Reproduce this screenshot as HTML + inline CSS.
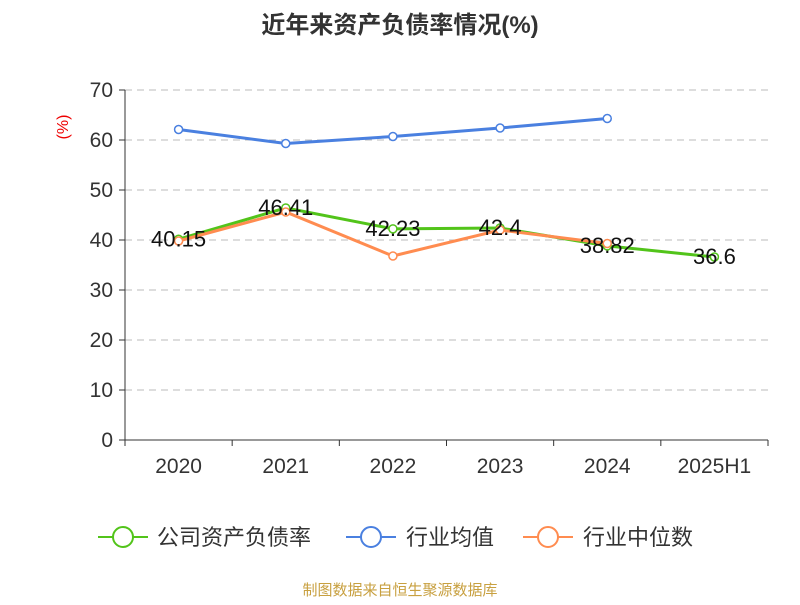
<!DOCTYPE html>
<html><head><meta charset="utf-8"><style>
body{margin:0;background:#fff;font-family:"Liberation Sans","Noto Sans CJK SC",sans-serif}
</style></head><body>
<svg width="800" height="600" xmlns="http://www.w3.org/2000/svg" font-family="Liberation Sans, Noto Sans CJK SC, sans-serif">
<text x="400" y="33" text-anchor="middle" font-size="24" font-weight="bold" fill="#333">近年来资产负债率情况(%)</text>
<text x="68" y="127" text-anchor="middle" font-size="16" fill="#e00" transform="rotate(-90 68 127)">(%)</text>
<g id="grid"></g><g id="axes"></g><g id="series"></g>
<g font-size="22" fill="#333">
<g><line x1="98" y1="537" x2="148" y2="537" stroke="#52c41a" stroke-width="2"/><circle cx="123" cy="537" r="10" fill="#fff" stroke="#52c41a" stroke-width="2"/><text x="157" y="545">公司资产负债率</text></g>
<g><line x1="346" y1="537" x2="396" y2="537" stroke="#4a80e0" stroke-width="2"/><circle cx="371" cy="537" r="10" fill="#fff" stroke="#4a80e0" stroke-width="2"/><text x="406" y="545">行业均值</text></g>
<g><line x1="523" y1="537" x2="573" y2="537" stroke="#ff8c50" stroke-width="2"/><circle cx="548" cy="537" r="10" fill="#fff" stroke="#ff8c50" stroke-width="2"/><text x="583" y="545">行业中位数</text></g>
</g>
<text x="400" y="595" text-anchor="middle" font-size="15" fill="#c8a040">制图数据来自恒生聚源数据库</text>
</svg>
<script>
const categories=["2020","2021","2022","2023","2024","2025H1"];
const company=[40.15,46.41,42.23,42.4,38.82,36.6];
const companyLabels=["40.15","46.41","42.23","42.4","38.82","36.6"];
const industryAvg=[62.1,59.3,60.7,62.4,64.3,null];
const industryMedian=[39.8,45.6,36.8,42.0,39.3,null];
const yTicks=[0,10,20,30,40,50,60,70];
const NS="http://www.w3.org/2000/svg";
const L=125,R=768,T=90,B=440,yMax=70;
const bw=(R-L)/categories.length;
const xs=i=>L+bw*(i+0.5);
const ys=v=>B-(v/yMax)*(B-T);
function mk(tag,attrs,parent,text){const e=document.createElementNS(NS,tag);for(const k in attrs)e.setAttribute(k,attrs[k]);if(text!=null)e.textContent=text;document.getElementById(parent).appendChild(e);return e;}
yTicks.forEach(t=>{
 if(t>0){const g=mk('line',{x1:L,x2:R,y1:ys(t),y2:ys(t),stroke:'#bbb','stroke-dasharray':'7,5'},'grid');
 
 }
 const tk=mk('line',{x1:L-6,x2:L,y1:ys(t),y2:ys(t),stroke:'#333'},'axes');
 
 
 const tl=mk('text',{x:L-12,y:ys(t)+7,'text-anchor':'end','font-size':21,fill:'#333'},'axes',String(t));
 
 
});
const ya=mk('line',{x1:L,x2:L,y1:T,y2:B,stroke:'#333'},'axes');


const xa=mk('line',{x1:L,x2:R,y1:B,y2:B,stroke:'#333'},'axes');


for(let i=0;i<=categories.length;i++){const t=mk('line',{x1:L+bw*i,x2:L+bw*i,y1:B,y2:B+6,stroke:'#333'},'axes');
 
 }
categories.forEach((c,i)=>{const t=mk('text',{x:xs(i),y:473,'text-anchor':'middle','font-size':21,fill:'#333'},'axes',c);
 
 });
function series(vals,color,name){
 const pts=vals.map((v,i)=>v==null?null:[xs(i),ys(v)]).filter(p=>p);
 const pl=mk('polyline',{points:pts.map(p=>p.join(',')).join(' '),fill:'none',stroke:color,'stroke-width':3},'series');
 
 
 pts.forEach(p=>{const c=mk('circle',{cx:p[0],cy:p[1],r:4,fill:'#fff',stroke:color,'stroke-width':1.5},'series');
 
 });
}
series(industryAvg,'#4a80e0','industry-avg');
series(company,'#52c41a','company');
series(industryMedian,'#ff8c50','industry-median');
company.forEach((v,i)=>{const t=mk('text',{x:xs(i),y:ys(v)+7,'text-anchor':'middle','font-size':22,fill:'#111'},'series',companyLabels[i]);
 
 });
</script>
</body></html>
